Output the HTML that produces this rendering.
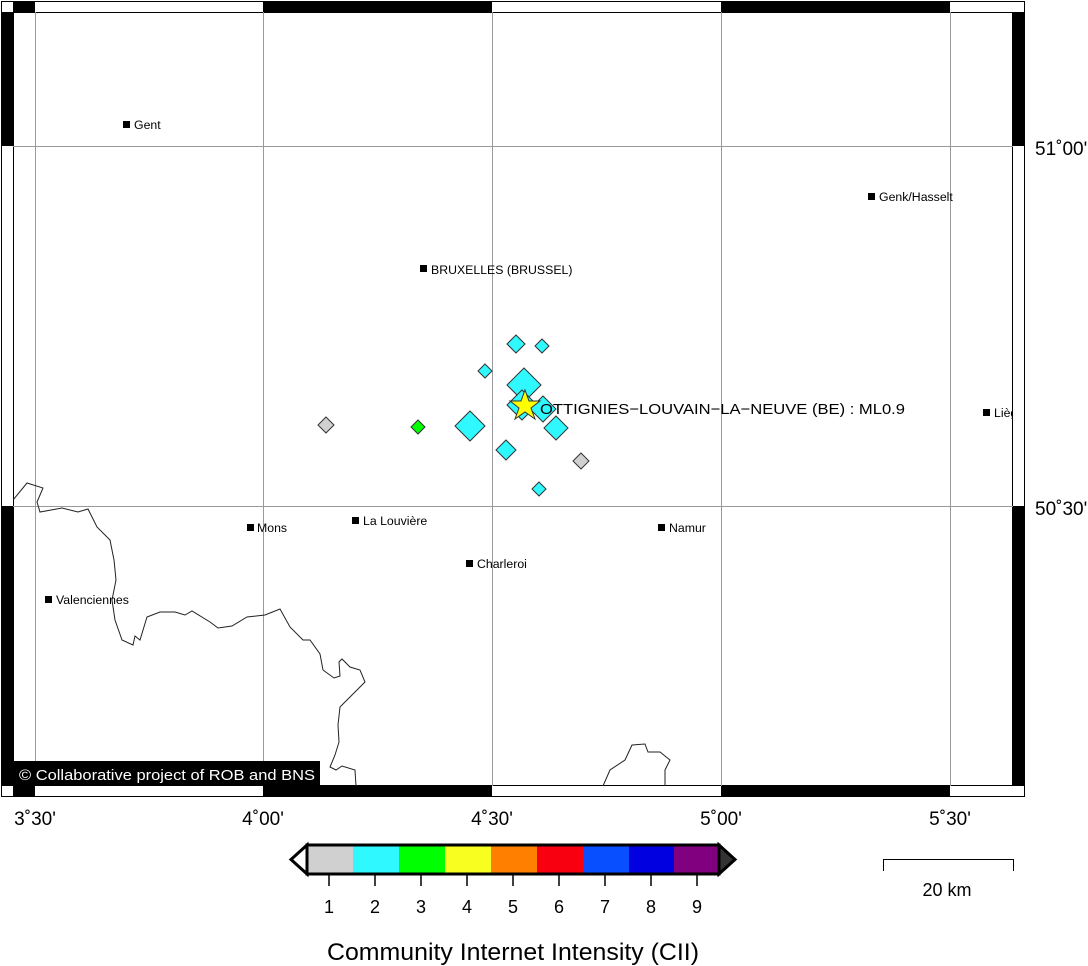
<!DOCTYPE html>
<html><head><meta charset="utf-8"><style>body{margin:0;background:#fff}svg{display:block}text{font-family:"Liberation Sans",sans-serif}</style></head><body>
<svg width="1088" height="966" viewBox="0 0 1088 966" xmlns="http://www.w3.org/2000/svg">
<defs><clipPath id="m"><rect x="13" y="12" width="1000" height="774"/></clipPath></defs>
<rect width="1088" height="966" fill="#fff"/>
<rect x="1.5" y="1.5" width="1023" height="795" fill="#fff" stroke="#000"/>
<g fill="#000">
<rect x="13" y="1" width="22" height="11"/><rect x="263" y="1" width="229" height="11"/><rect x="721" y="1" width="229" height="11"/>
<rect x="13" y="786" width="22" height="11"/><rect x="263" y="786" width="229" height="11"/><rect x="721" y="786" width="229" height="11"/>
<rect x="1" y="12" width="12" height="134"/><rect x="1" y="506" width="12" height="280"/>
<rect x="1013" y="12" width="12" height="134"/><rect x="1013" y="506" width="12" height="280"/>
</g>
<rect x="13.5" y="12.5" width="999" height="773" fill="#fff" stroke="#000"/>
<g clip-path="url(#m)">
<g stroke="#999" stroke-width="1">
<line x1="35.5" y1="12" x2="35.5" y2="786"/><line x1="263.5" y1="12" x2="263.5" y2="786"/><line x1="492.5" y1="12" x2="492.5" y2="786"/><line x1="721.5" y1="12" x2="721.5" y2="786"/><line x1="950.5" y1="12" x2="950.5" y2="786"/>
<line x1="13" y1="146.5" x2="1013" y2="146.5"/><line x1="13" y1="506.5" x2="1013" y2="506.5"/>
</g>
<polyline fill="none" stroke="#222" stroke-width="1" points="13,500 27,483 43,488 37,502 40,512 62,508 78,512 88,509 97,527 110,540 114,560 116,580 112,600 115,620 122,640 133,645 135,636 140,640 147,617 160,612 175,612 185,615 192,611 210,622 218,628 232,626 247,617 265,615 280,609 290,627 303,640 310,640 320,654 323,670 334,678 340,676 339,662 342,659 350,667 360,670 365,682 352,695 340,707 338,725 339,742 335,755 330,767 336,770 342,766 355,770 356,786"/>
<polyline fill="none" stroke="#222" stroke-width="1" points="603,786 610,770 625,760 632,745 645,744 648,752 660,752 670,760 665,770 665,786"/>
<g font-size="12.3" fill="#000">
<rect x="123" y="121" width="7" height="7"/><text x="134" y="129">Gent</text>
<rect x="868" y="193" width="7" height="7"/><text x="879" y="201">Genk/Hasselt</text>
<rect x="420" y="265" width="7" height="7"/><text x="431" y="274">BRUXELLES (BRUSSEL)</text>
<rect x="983" y="409" width="7" height="7"/><text x="994" y="417">Liège</text>
<rect x="247" y="524" width="7" height="7"/><text x="257" y="532">Mons</text>
<rect x="352" y="517" width="7" height="7"/><text x="363" y="525">La Louvière</text>
<rect x="466" y="560" width="7" height="7"/><text x="477" y="568">Charleroi</text>
<rect x="658" y="524" width="7" height="7"/><text x="669" y="532">Namur</text>
<rect x="45" y="596" width="7" height="7"/><text x="56" y="604">Valenciennes</text>
</g>
<g stroke="#333" stroke-width="1">
<path d="M326,417 L334,425 L326,433 L318,425Z" fill="#d0d0d0"/>
<path d="M418,420 L425,427 L418,434 L411,427Z" fill="#0f0"/>
<path d="M470,411 L485,426 L470,441 L455,426Z" fill="#2ff8ff"/>
<path d="M485,364 L492,371 L485,378 L478,371Z" fill="#2ff8ff"/>
<path d="M516,335 L525,344 L516,353 L507,344Z" fill="#2ff8ff"/>
<path d="M542,339 L549,346 L542,353 L535,346Z" fill="#2ff8ff"/>
<path d="M524,368 L541,385 L524,402 L507,385Z" fill="#2ff8ff"/>
<path d="M522,390 L537,405 L522,420 L507,405Z" fill="#2ff8ff"/>
<path d="M543,396 L556,409 L543,422 L530,409Z" fill="#2ff8ff"/>
<path d="M556,416 L568,428 L556,440 L544,428Z" fill="#2ff8ff"/>
<path d="M506,440 L516,450 L506,460 L496,450Z" fill="#2ff8ff"/>
<path d="M581,453 L589,461 L581,469 L573,461Z" fill="#d0d0d0"/>
<path d="M539,482 L546,489 L539,496 L532,489Z" fill="#2ff8ff"/>
</g>
<polygon points="525,390 529,401 540,401 531,408 535,419 525,412 515,419 519,408 510,401 521,401" fill="#ffff00" stroke="#333"/>
<text x="540" y="414" font-size="15" textLength="365" lengthAdjust="spacingAndGlyphs">OTTIGNIES−LOUVAIN−LA−NEUVE (BE) : ML0.9</text>
<rect x="13" y="761" width="307" height="25" fill="#000"/>
<text x="19" y="780" font-size="15" fill="#fff" textLength="296" lengthAdjust="spacingAndGlyphs">© Collaborative project of ROB and BNS</text>
</g>
<g font-size="19" text-anchor="middle">
<text x="35" y="825">3˚30'</text><text x="263" y="825">4˚00'</text><text x="492" y="825">4˚30'</text><text x="721" y="825">5˚00'</text><text x="950" y="825">5˚30'</text>
</g>
<g font-size="19"><text x="1035" y="155">51˚00'</text><text x="1035" y="515">50˚30'</text></g>
<g>
<rect x="307" y="845" width="46" height="29" fill="#d0d0d0"/>
<rect x="353" y="845" width="46" height="29" fill="#2ff8ff"/>
<rect x="399" y="845" width="46" height="29" fill="#0f0"/>
<rect x="445" y="845" width="46" height="29" fill="#f8ff20"/>
<rect x="491" y="845" width="46" height="29" fill="#ff8000"/>
<rect x="537" y="845" width="46" height="29" fill="#f80010"/>
<rect x="583" y="845" width="46" height="29" fill="#0850ff"/>
<rect x="629" y="845" width="45" height="29" fill="#0000e0"/>
<rect x="674" y="845" width="45" height="29" fill="#800080"/>
<rect x="307" y="845" width="412" height="29" fill="none" stroke="#000" stroke-width="3"/>
<polygon points="307,845 291,859.5 307,874" fill="#fff" stroke="#000" stroke-width="3"/>
<polygon points="719,845 735,859.5 719,874" fill="#333" stroke="#000" stroke-width="3"/>
</g>
<g stroke="#000" stroke-width="1.5">
<line x1="329" y1="875" x2="329" y2="886"/><line x1="375" y1="875" x2="375" y2="886"/><line x1="421" y1="875" x2="421" y2="886"/><line x1="467" y1="875" x2="467" y2="886"/><line x1="513" y1="875" x2="513" y2="886"/><line x1="559" y1="875" x2="559" y2="886"/><line x1="605" y1="875" x2="605" y2="886"/><line x1="651" y1="875" x2="651" y2="886"/><line x1="697" y1="875" x2="697" y2="886"/>
</g>
<g font-size="18" text-anchor="middle">
<text x="329" y="913">1</text><text x="375" y="913">2</text><text x="421" y="913">3</text><text x="467" y="913">4</text><text x="513" y="913">5</text><text x="559" y="913">6</text><text x="605" y="913">7</text><text x="651" y="913">8</text><text x="697" y="913">9</text>
</g>
<text x="513" y="960" font-size="24" text-anchor="middle" textLength="372" lengthAdjust="spacingAndGlyphs">Community Internet Intensity (CII)</text>
<polyline points="883.5,871 883.5,859.5 1013.5,859.5 1013.5,871" fill="none" stroke="#000" stroke-width="1"/>
<text x="947" y="896" font-size="18" text-anchor="middle">20 km</text>
</svg>
</body></html>
